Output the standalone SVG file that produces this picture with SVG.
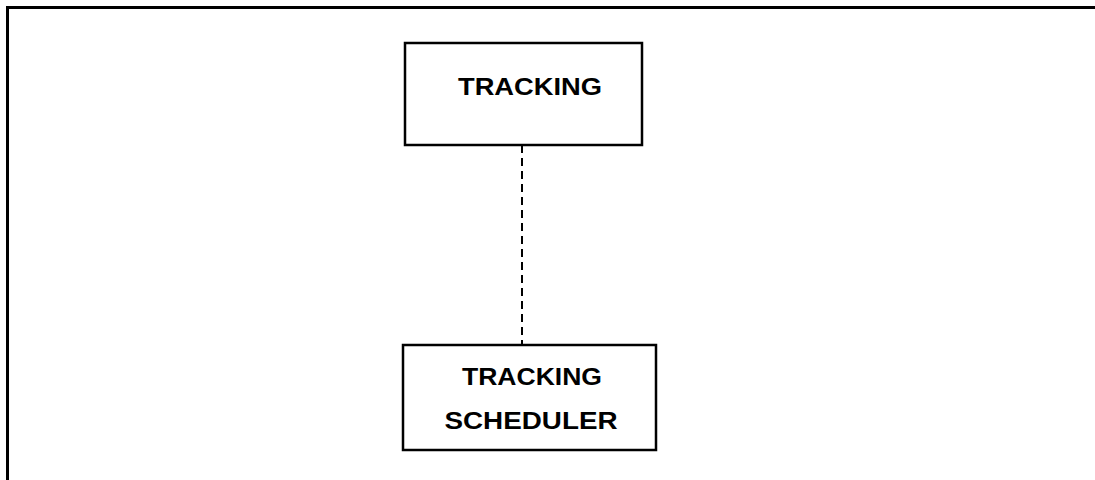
<svg xmlns="http://www.w3.org/2000/svg" width="1095" height="480" viewBox="0 0 1095 480">
  <style>
    .frame { fill: none; stroke: #000; stroke-width: 3; }
    .box { fill: #fff; stroke: #000; stroke-width: 2.5; }
    .label { font-family: "Liberation Sans", Arial, sans-serif; font-weight: bold; font-size: 23px; fill: #000; text-anchor: middle; }
    .link { stroke: #000; stroke-width: 2; stroke-dasharray: 8 5; fill: none; }
  </style>
  <rect width="1095" height="480" fill="#fff"/>
  <!-- open outer frame: top and left edges -->
  <path class="frame" d="M7.5,480 V7.5 H1095"/>
  <g id="connectors">
    <line class="link" x1="522" y1="145" x2="522" y2="345"/>
  </g>
  <g id="tracking">
    <rect class="box" x="405" y="43" width="237" height="102"/>
    <text class="label" x="530" y="95" textLength="144" lengthAdjust="spacingAndGlyphs">TRACKING</text>
  </g>
  <g id="tracking-scheduler">
    <rect class="box" x="403" y="345" width="253" height="105"/>
    <text class="label" x="532" y="385" textLength="140" lengthAdjust="spacingAndGlyphs">TRACKING</text>
    <text class="label" x="531" y="429" textLength="173" lengthAdjust="spacingAndGlyphs">SCHEDULER</text>
  </g>
</svg>
